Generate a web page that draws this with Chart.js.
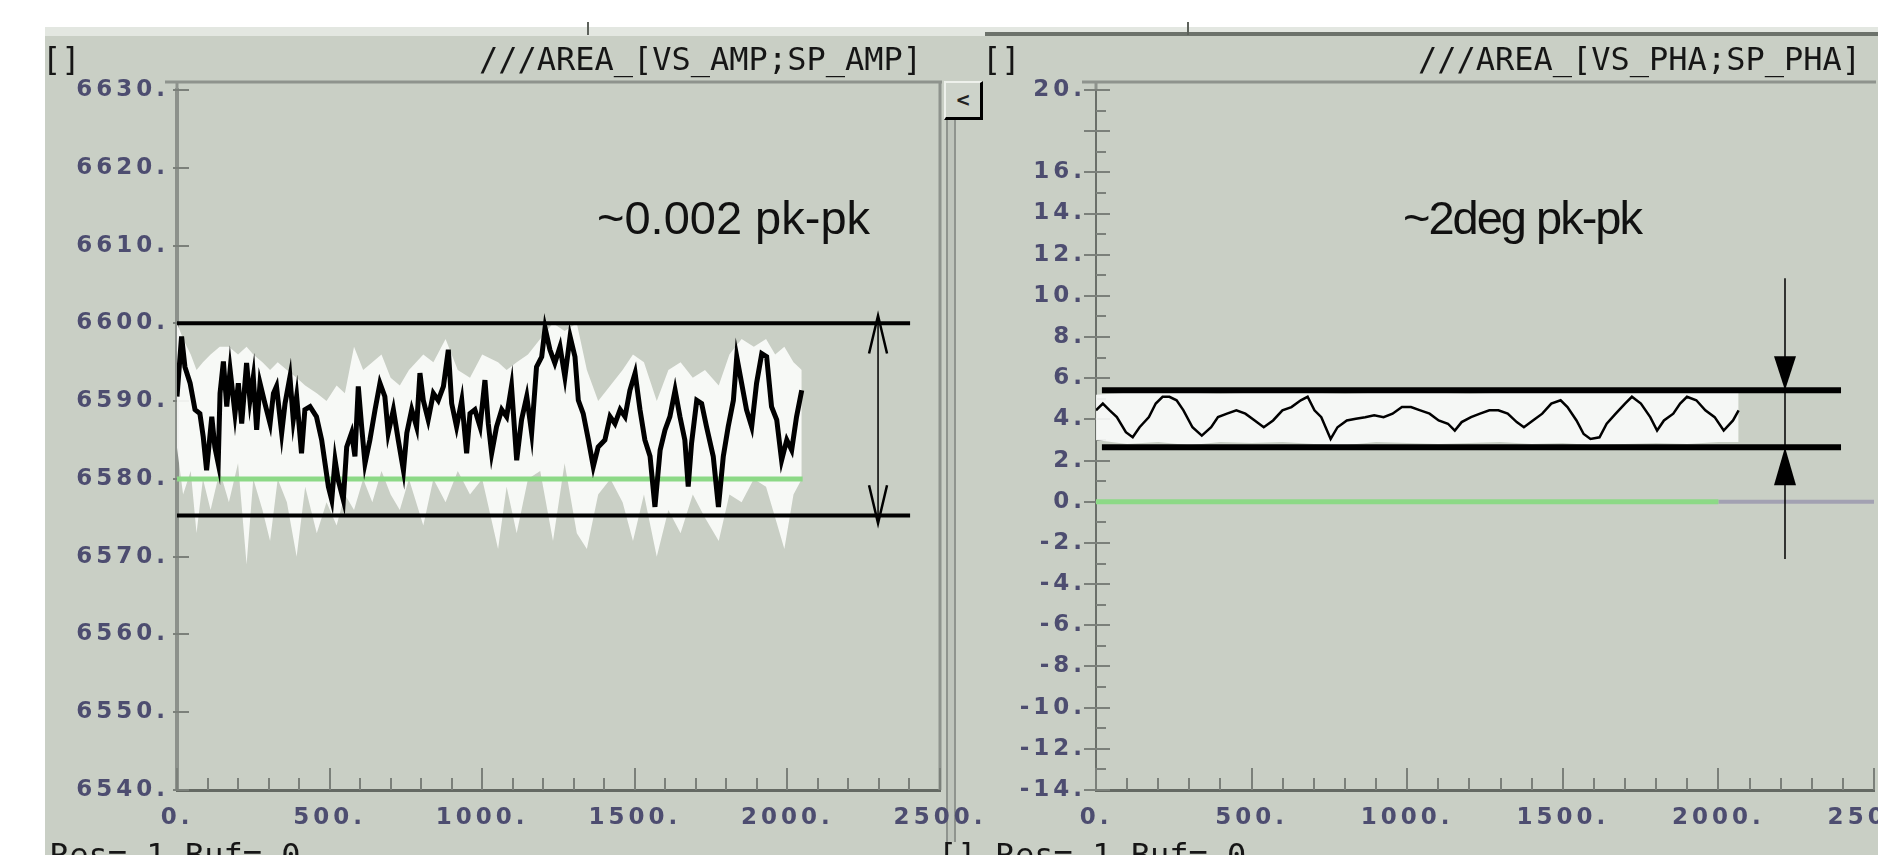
<!DOCTYPE html>
<html>
<head>
<meta charset="utf-8">
<script src="https://cdn.jsdelivr.net/npm/chart.js@4.4.0/dist/chart.umd.min.js"></script>
<style>
  html, body { margin: 0; padding: 0; }
  body { width: 1878px; height: 855px; overflow: hidden; background: #c9cfc5; position: relative; }
  .abs { position: absolute; }
  canvas { position: absolute; top: 0; }
  #amp { left: 0; }
  #pha { left: 940px; }
  #topWhite { left: 0; top: 0; width: 1878px; height: 27px; background: #fff; }
  #topStrip { left: 45px; top: 27px; width: 1833px; height: 9px; background: #e3e7e1; }
  #topDark { left: 985px; top: 32px; width: 893px; height: 4px; background: #6c726b; }
  #leftWhite { left: 0; top: 0; width: 45px; height: 855px; background: #fff; }
  .tickmark { top: 22px; width: 2px; height: 13px; background: #5d625c; }
  .mono { font-family: 'DejaVu Sans Mono', monospace; font-size: 32px; line-height: 32px; color: #161616; white-space: pre; }
  .note { top: 194px; font-family: 'Liberation Sans', Arial, sans-serif; font-size: 47px; line-height: 47px; color: #111; white-space: pre; }
  #sep { left: 946px; top: 117px; width: 6px; height: 725px; border-left: 2px solid #8f948e; border-right: 2px solid #8f948e; background: #bfc5bc; }
  #btn { left: 944px; top: 81px; width: 34px; height: 34px; background: #cdd3ca; border-top: 2px solid #eef1ec; border-left: 2px solid #eef1ec; border-right: 3px solid #000; border-bottom: 3px solid #000; font: bold 22px 'DejaVu Sans Mono', monospace; color: #222; text-align: center; line-height: 34px; }
</style>
</head>
<body>
<div id="topWhite" class="abs"></div>
<div id="topStrip" class="abs"></div>
<div id="topDark" class="abs"></div>
<div id="leftWhite" class="abs"></div>
<div class="abs tickmark" style="left:587px"></div>
<div class="abs tickmark" style="left:1187px"></div>
<div id="sep" class="abs"></div>
<div id="btn" class="abs">&lt;</div>
<canvas id="amp" width="1000" height="855"></canvas>
<canvas id="pha" width="938" height="855"></canvas>
<div class="abs mono" style="left:42px;top:43px">[]</div>
<div class="abs mono" style="right:956px;top:43px">///AREA_[VS_AMP;SP_AMP]</div>
<div class="abs mono" style="left:982px;top:43px">[]</div>
<div class="abs mono" style="right:17px;top:43px">///AREA_[VS_PHA;SP_PHA]</div>
<div class="abs note" style="left:597px">~0.002 pk-pk</div>
<div class="abs note" style="left:1403px;letter-spacing:-2px">~2deg pk-pk</div>
<div class="abs mono" style="left:50px;top:839px">Res= 1 Buf= 0</div>
<div class="abs mono" style="left:938px;top:839px">[] Res= 1 Buf= 0</div>
<script>
// tick values
const xTicks = [0, 500, 1000, 1500, 2000, 2500]
const ampYTicks = [6540, 6550, 6560, 6570, 6580, 6590, 6600, 6610, 6620, 6630]
const phaYTicks = [-14, -12, -10, -8, -6, -4, -2, 0, 2, 4, 6, 8, 10, 12, 14, 16, 20]

// amplitude trace (VS_AMP)
const ampX = [0, 15, 26, 43, 59, 75, 86, 97, 114, 124, 135, 141, 152, 163, 174, 190, 201, 212, 228, 239,
  250, 261, 272, 288, 305, 316, 326, 343, 354, 370, 381, 392, 408, 419, 436, 457, 474, 485, 496, 507,
  518, 528, 545, 556, 572, 583, 594, 605, 616, 632, 649, 665, 681, 692, 709, 725, 742, 753, 769, 785,
  796, 807, 823, 840, 856, 873, 889, 900, 916, 933, 949, 960, 976, 993, 1009, 1020, 1031, 1047, 1064, 1080,
  1096, 1113, 1129, 1146, 1162, 1178, 1195, 1206, 1222, 1238, 1255, 1271, 1288, 1304, 1315, 1331, 1348, 1364, 1380, 1402,
  1419, 1435, 1452, 1468, 1484, 1501, 1517, 1533, 1550, 1566, 1583, 1599, 1615, 1632, 1648, 1664, 1675, 1686, 1703, 1719,
  1735, 1757, 1774, 1790, 1806, 1823, 1834, 1850, 1866, 1883, 1899, 1916, 1932, 1948, 1965, 1981, 1998, 2014, 2030, 2047]
const ampY = [6590.6, 6598.3, 6594.4, 6592.3, 6588.9, 6588.4, 6585.4, 6581.1, 6588.0, 6584.1, 6582.0, 6591.0, 6595.1, 6589.3, 6594.0, 6588.4, 6592.3, 6587.1, 6594.9, 6590.1,
  6593.1, 6586.3, 6592.3, 6589.7, 6587.1, 6591.0, 6591.9, 6585.9, 6589.7, 6593.1, 6587.6, 6590.6, 6583.3, 6588.9, 6589.3, 6588.0, 6585.0, 6582.0, 6579.0, 6577.3,
  6582.4, 6579.9, 6577.3, 6584.1, 6585.9, 6582.9, 6591.9, 6586.7, 6582.0, 6585.0, 6588.9, 6592.3, 6590.6, 6585.9, 6588.9, 6585.0, 6581.1, 6585.9, 6588.9, 6586.7,
  6593.6, 6590.1, 6587.6, 6591.0, 6590.1, 6591.9, 6596.6, 6589.7, 6586.7, 6590.1, 6583.3, 6588.4, 6588.9, 6586.7, 6592.7, 6587.1, 6583.3, 6586.7, 6588.9, 6588.0,
  6591.9, 6582.4, 6587.6, 6590.6, 6585.9, 6594.4, 6595.7, 6599.4, 6596.6, 6594.9, 6597.0, 6593.1, 6598.3, 6595.7, 6590.1, 6588.4, 6585.0, 6581.6, 6584.1, 6585.0,
  6588.0, 6587.1, 6588.9, 6588.0, 6591.4, 6593.6, 6588.9, 6585.0, 6582.9, 6576.4, 6583.7, 6586.3, 6588.0, 6591.4, 6588.0, 6585.0, 6579.0, 6584.6, 6590.1, 6589.7,
  6586.7, 6582.9, 6576.4, 6582.9, 6586.7, 6590.1, 6595.7, 6592.3, 6588.9, 6586.7, 6592.3, 6596.1, 6595.7, 6589.3, 6587.6, 6582.4, 6585.0, 6583.7, 6588.0, 6591.4]

// raw (white) envelope behind the amplitude trace
const ampEnvX = [0, 20, 45, 64, 85, 110, 140, 170, 200, 228, 250, 280, 305, 330, 360, 392, 420, 458, 490, 523,
  550, 580, 610, 640, 670, 700, 730, 760, 807, 840, 880, 920, 960, 1000, 1052, 1080, 1113, 1150, 1190, 1232,
  1270, 1310, 1343, 1380, 1420, 1460, 1494, 1530, 1572, 1610, 1650, 1690, 1730, 1775, 1810, 1850, 1890, 1930, 1960, 1990,
  2020, 2047]
const ampEnvHi = [6600, 6598, 6596, 6594, 6595, 6596, 6597, 6597, 6596, 6597, 6596, 6595, 6594, 6595, 6594, 6593, 6592, 6591, 6590, 6592,
  6591, 6597, 6594, 6595, 6596, 6593, 6592, 6594, 6596, 6595, 6598, 6594, 6593, 6596, 6595, 6594, 6595, 6596, 6598, 6600,
  6599, 6600, 6594, 6590, 6592, 6594, 6596, 6595, 6590, 6594, 6595, 6593, 6594, 6592, 6596, 6598, 6597, 6598, 6596, 6597,
  6595, 6594]
const ampEnvLo = [6584, 6578, 6581, 6573, 6580, 6576, 6581, 6577, 6582, 6569, 6580, 6576, 6572, 6580, 6577, 6570, 6579, 6573, 6577, 6574,
  6578, 6576, 6580, 6577, 6581, 6578, 6576, 6580, 6574, 6580, 6577, 6581, 6578, 6580, 6571, 6579, 6573, 6580, 6581, 6572,
  6582, 6573, 6571, 6578, 6580, 6577, 6572, 6578, 6570, 6576, 6573, 6578, 6575, 6572, 6578, 6577, 6580, 6579, 6575, 6571,
  6578, 6580]

// amplitude setpoint and the hand-drawn pk-pk marks
const ampSetX = [0, 2050]
const ampSetY = [6580, 6580]
const ampBandX = [0, 2402]
const ampBandHi = [6600, 6600]
const ampBandLo = [6575.3, 6575.3]
const ampArrowX = [2297, 2297]
const ampArrowY = [6601, 6574.3]

// phase trace (VS_PHA)
const phaX = [0, 22, 44, 67, 96, 118, 140, 170, 192, 214, 236, 259, 281, 310, 340, 370, 392, 421, 451, 480,
  510, 539, 569, 599, 628, 658, 680, 702, 724, 754, 776, 806, 835, 865, 894, 924, 953, 983, 1012, 1042,
  1072, 1101, 1131, 1153, 1175, 1205, 1234, 1264, 1293, 1323, 1352, 1375, 1404, 1434, 1463, 1493, 1515, 1544, 1567, 1589,
  1618, 1641, 1670, 1700, 1722, 1751, 1781, 1803, 1825, 1855, 1877, 1899, 1929, 1958, 1988, 2017, 2047, 2065]
const phaY = [4.44, 4.77, 4.44, 4.11, 3.38, 3.13, 3.62, 4.11, 4.77, 5.10, 5.10, 4.93, 4.44, 3.62, 3.21, 3.62, 4.11, 4.28, 4.44, 4.28,
  3.95, 3.62, 3.95, 4.44, 4.60, 4.93, 5.10, 4.44, 4.11, 3.05, 3.62, 3.95, 4.03, 4.11, 4.20, 4.11, 4.28, 4.60, 4.60, 4.44,
  4.28, 3.95, 3.79, 3.46, 3.87, 4.11, 4.28, 4.44, 4.44, 4.28, 3.87, 3.62, 3.95, 4.28, 4.77, 4.93, 4.60, 3.95, 3.29, 3.05,
  3.13, 3.79, 4.28, 4.77, 5.10, 4.77, 4.11, 3.46, 3.95, 4.28, 4.77, 5.10, 4.93, 4.44, 4.11, 3.46, 3.95, 4.44]

const phaEnvX = [0, 100, 200, 300, 400, 500, 600, 700, 800, 900, 1000, 1100, 1200, 1300, 1400, 1500, 1600, 1700, 1800, 1900, 2000, 2065]
const phaEnvHi = [5.2, 5.3, 5.35, 5.3, 5.25, 5.3, 5.35, 5.3, 5.25, 5.3, 5.35, 5.3, 5.25, 5.3, 5.3, 5.35, 5.3, 5.35, 5.3, 5.35, 5.3, 5.3]
const phaEnvLo = [3.0, 2.8, 2.9, 2.75, 2.9, 2.85, 2.9, 2.8, 2.75, 2.9, 2.85, 2.8, 2.85, 2.9, 2.8, 2.85, 2.75, 2.8, 2.85, 2.8, 2.9, 2.9]

const phaSetX = [0, 2000]
const phaSetY = [0, 0]
const phaTailX = [2000, 2500]
const phaTailY = [0, 0]
const phaBandX = [19, 2394]
const phaBandHi = [5.42, 5.42]
const phaBandLo = [2.65, 2.65]
const phaArrowX = [2214, 2214]
const phaArrowY = [10.86, -2.78]

const pts = (xs, ys) => xs.map((x, i) => ({ x, y: ys[i] }))

const tickFont = { family: 'DejaVu Sans', size: 23, weight: 'bold' }
const tickColor = '#4d4d70'

function line (xs, ys, color, width, order, extra) {
  return Object.assign({
    data: pts(xs, ys),
    borderColor: color,
    borderWidth: width,
    pointRadius: 0,
    tension: 0,
    fill: false,
    order
  }, extra || {})
}

// inward tick marks and the grey plot frame
const frameTicks = {
  id: 'frameTicks',
  beforeDraw (chart) {
    chart.ctx.letterSpacing = '4px'
  },
  beforeDatasetsDraw (chart, args, o) {
    const { ctx, chartArea: a, scales: { x, y } } = chart
    ctx.save()
    ctx.strokeStyle = '#8e938d'
    ctx.lineWidth = 3
    ctx.beginPath()
    ctx.moveTo(a.left - o.frameLeft, a.top - 8)
    ctx.lineTo(a.right + 2, a.top - 8)
    ctx.moveTo(a.left, a.top - 9)
    ctx.lineTo(a.left, a.top)
    if (o.rightBorder) {
      ctx.moveTo(a.right, a.top - 8)
      ctx.lineTo(a.right, a.bottom)
    }
    ctx.stroke()

    ctx.strokeStyle = '#7b807a'
    ctx.lineWidth = 2
    ctx.beginPath()
    for (let v = x.min; v <= x.max; v += 100) {
      const px = Math.round(x.getPixelForValue(v))
      ctx.moveTo(px, a.bottom)
      ctx.lineTo(px, a.bottom - (v % 500 === 0 ? 22 : 12))
    }
    for (let v = y.min; v <= y.max + 1e-6; v += o.yMinor) {
      const py = Math.round(y.getPixelForValue(v))
      const major = Math.round(v - y.min) % o.yMajor === 0
      ctx.moveTo(a.left - (major ? o.yOut : 0), py)
      ctx.lineTo(a.left + (major ? o.yIn : o.yInMinor), py)
    }
    ctx.stroke()
    ctx.restore()
  }
}

// arrow heads on the pk-pk marks
const arrowHeads = {
  id: 'arrowHeads',
  afterDatasetsDraw (chart, args, o) {
    const { ctx, scales: { x, y } } = chart
    ;(o.heads || []).forEach(h => {
      const px = x.getPixelForValue(h.x)
      const py = y.getPixelForValue(h.y)
      const dir = h.dir === 'up' ? 1 : -1
      ctx.save()
      ctx.beginPath()
      ctx.moveTo(px - h.w, py + dir * h.len)
      ctx.lineTo(px, py)
      ctx.lineTo(px + h.w, py + dir * h.len)
      if (h.filled) {
        ctx.closePath()
        ctx.fillStyle = '#000'
        ctx.fill()
      } else {
        ctx.lineWidth = 2.5
        ctx.strokeStyle = '#000'
        ctx.stroke()
      }
      ctx.restore()
    })
  }
}

// fixed axis boxes, no label overflow padding
function fixBox (s, w, h) {
  if (w) s.width = w
  if (h) s.height = h
  s.paddingLeft = 0
  s.paddingRight = 0
  s.paddingTop = 0
  s.paddingBottom = 0
}

function xAxis () {
  return {
    type: 'linear',
    min: 0,
    max: 2500,
    afterBuildTicks: s => { s.ticks = xTicks.map(v => ({ value: v })) },
    afterFit: s => fixBox(s, 0, 45),
    ticks: { font: tickFont, color: tickColor, padding: 14, maxRotation: 0, autoSkip: false, callback: v => v + '.' },
    grid: { display: false, drawTicks: false },
    border: { display: true, color: '#646963', width: 3 }
  }
}

function yAxis (min, max, values, width, pad, borderColor, borderWidth) {
  return {
    type: 'linear',
    min,
    max,
    afterBuildTicks: s => { s.ticks = values.map(v => ({ value: v })) },
    afterFit: s => fixBox(s, width, 0),
    ticks: { font: tickFont, color: tickColor, padding: pad, autoSkip: false, callback: v => v + '.' },
    grid: { display: false, drawTicks: false },
    border: { display: true, color: borderColor, width: borderWidth }
  }
}

Chart.defaults.animation = false

new Chart(document.getElementById('amp'), {
  type: 'line',
  data: {
    datasets: [
      line(ampBandX, ampBandHi, '#000', 4, 0),
      line(ampBandX, ampBandLo, '#000', 4, 0),
      line(ampArrowX, ampArrowY, '#000', 1.5, 0),
      line(ampX, ampY, '#000', 5, 1),
      line(ampSetX, ampSetY, '#8cd986', 5, 2),
      line(ampEnvX, ampEnvHi, 'transparent', 0, 3, { fill: '+1', backgroundColor: 'rgba(252,253,251,0.9)' }),
      line(ampEnvX, ampEnvLo, 'transparent', 0, 4)
    ]
  },
  options: {
    responsive: false,
    events: [],
    layout: { padding: { left: 47, right: 60, top: 90, bottom: 20 }, autoPadding: false },
    scales: {
      x: xAxis(),
      y: yAxis(6540, 6630, ampYTicks, 130, 8, '#8c918b', 4)
    },
    plugins: {
      legend: { display: false },
      tooltip: { enabled: false },
      frameTicks: { frameLeft: 12, rightBorder: true, yMinor: 10, yMajor: 1, yOut: 4, yIn: 12, yInMinor: 12 },
      arrowHeads: {
        heads: [
          { x: ampArrowX[0], y: ampArrowY[0], dir: 'up', w: 9, len: 38, filled: false },
          { x: ampArrowX[1], y: ampArrowY[1], dir: 'down', w: 9, len: 38, filled: false }
        ]
      }
    }
  },
  plugins: [frameTicks, arrowHeads]
})

new Chart(document.getElementById('pha'), {
  type: 'line',
  data: {
    datasets: [
      line(phaBandX, phaBandHi, '#000', 6, 0),
      line(phaBandX, phaBandLo, '#000', 6, 0),
      line(phaArrowX, phaArrowY, '#000', 1.5, 0),
      line(phaX, phaY, '#000', 2.5, 1),
      line(phaSetX, phaSetY, '#8cd986', 5, 2),
      line(phaTailX, phaTailY, '#a2a1b2', 4, 2),
      line(phaEnvX, phaEnvHi, 'transparent', 0, 3, { fill: '+1', backgroundColor: 'rgba(250,251,249,0.9)' }),
      line(phaEnvX, phaEnvLo, 'transparent', 0, 4)
    ]
  },
  options: {
    responsive: false,
    events: [],
    layout: { padding: { left: 36, right: 4, top: 90, bottom: 20 }, autoPadding: false },
    scales: {
      x: xAxis(),
      y: yAxis(-14, 20, phaYTicks, 120, 10, '#6a6f69', 2)
    },
    plugins: {
      legend: { display: false },
      tooltip: { enabled: false },
      frameTicks: { frameLeft: 14, rightBorder: false, yMinor: 1, yMajor: 2, yOut: 12, yIn: 14, yInMinor: 10 },
      arrowHeads: {
        heads: [
          { x: phaArrowX[0], y: phaBandHi[0], dir: 'down', w: 11, len: 34, filled: true },
          { x: phaArrowX[1], y: phaBandLo[0], dir: 'up', w: 11, len: 38, filled: true }
        ]
      }
    }
  },
  plugins: [frameTicks, arrowHeads]
})
</script>
</body>
</html>
